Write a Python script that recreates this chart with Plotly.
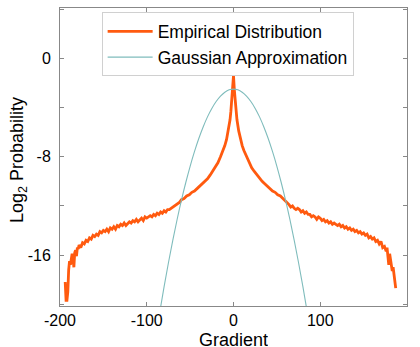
import plotly.graph_objects as go

# Empirical distribution (log2 probability vs gradient)
emp_x = [-194, -193, -192, -191, -190, -189, -188, -187, -186, -185, -184, -183, -182, -181, -180, -179, -178,
         -176, -174, -172, -170, -168, -166, -164, -162, -160, -158, -156, -154, -152, -150, -148, -146, -144,
         -142, -140, -138, -136, -134, -132, -130, -128, -126, -124, -122, -120, -118, -116, -114, -112, -110,
         -108, -106, -104, -102, -100, -98, -96, -94, -92, -90, -88, -86, -84, -82, -80, -78, -76, -74, -72,
         -70, -68, -66, -64, -62, -60, -57, -54, -51, -48, -45, -42, -39, -36, -33, -30, -27, -24, -21, -18,
         -15, -12, -10, -8, -6, -4, -3, -2, -1, 0,
         1, 2, 3, 4, 6, 8, 10, 12, 15, 18, 21, 24, 27, 30, 33, 36, 39, 42, 45, 48, 51, 54, 57,
         60, 62, 64, 66, 68, 70, 72, 74, 76, 78, 80, 82, 84, 86, 88, 90, 92, 94, 96, 98, 100, 102, 104, 106,
         108, 110, 112, 114, 116, 118, 120, 122, 124, 126, 128, 130, 132, 134, 136, 138, 140, 142, 144, 146,
         148, 150, 152, 154, 156, 158, 160, 162, 164, 166, 168, 170, 172, 174, 176, 177, 178, 179, 180, 181,
         182, 183, 184, 185, 186, 187]
emp_y = [-18.2, -19.7, -19.7, -19.0, -17.2, -16.5, -16.8, -16.0, -15.9, -16.3, -17.0, -15.8, -15.6, -16.1, -15.4,
         -15.5, -15.2, -15.4, -15.0, -15.1, -14.8, -14.9, -14.6, -14.7, -14.4, -14.5, -14.3, -14.4, -14.1, -14.2,
         -14.0, -14.1, -13.9, -14.1, -13.8, -13.9, -13.7, -13.9, -13.6, -13.7, -13.5, -13.6, -13.4, -13.6, -13.4,
         -13.3, -13.4, -13.2, -13.3, -13.1, -13.3, -13.1, -13.0, -13.2, -12.9, -13.0, -12.9, -12.8, -12.9, -12.7,
         -12.8, -12.6, -12.7, -12.5, -12.6, -12.4, -12.5, -12.3, -12.3, -12.2, -12.1, -12.0, -11.9, -11.8, -11.7,
         -11.5, -11.4, -11.2, -11.1, -10.9, -10.8, -10.6, -10.4, -10.2, -10.0, -9.8, -9.5, -9.2, -8.9, -8.5,
         -8.0, -7.5, -7.1, -6.6, -5.9, -5.0, -4.3, -3.5, -2.6, -1.4,
         -2.6, -3.5, -4.3, -5.0, -5.9, -6.6, -7.1, -7.5, -8.0, -8.5, -8.9, -9.2, -9.5, -9.8, -10.0, -10.2, -10.4,
         -10.6, -10.8, -10.9, -11.1, -11.2, -11.4,
         -11.6, -11.7, -11.9, -12.1, -12.0, -12.2, -12.3, -12.2, -12.3, -12.5, -12.4, -12.6, -12.5, -12.7, -12.7,
         -12.9, -12.8, -12.9, -13.1, -12.9, -13.0, -13.2, -13.1, -13.3, -13.2, -13.4, -13.3, -13.5, -13.4, -13.5,
         -13.6, -13.5, -13.7, -13.6, -13.8, -13.7, -13.9, -13.8, -14.0, -13.9, -14.1, -14.0, -14.2, -14.1, -14.3,
         -14.2, -14.4, -14.3, -14.6, -14.5, -14.7, -14.6, -14.9, -14.8, -15.1, -14.9, -15.4, -15.3, -15.7, -15.4,
         -16.0, -16.8, -15.9, -16.4, -16.9, -17.3, -17.0, -17.6, -18.2, -18.7]

# Gaussian approximation
gauss_x = [-90, -85, -80, -75, -70, -65, -60, -55, -50, -45, -40, -35, -30, -25, -20, -15, -10, -5, 0,
           5, 10, 15, 20, 25, 30, 35, 40, 45, 50, 55, 60, 65, 70, 75, 80, 85, 90]
gauss_y = [-22.85, -20.65, -18.58, -16.63, -14.81, -13.11, -11.54, -10.10, -8.78, -7.59, -6.52, -5.58,
           -4.76, -4.07, -3.51, -3.07, -2.75, -2.56, -2.50,
           -2.56, -2.75, -3.07, -3.51, -4.07, -4.76, -5.58, -6.52, -7.59, -8.78, -10.10, -11.54, -13.11,
           -14.81, -16.63, -18.58, -20.65, -22.85]

x_ticks = [-200, -100, 0, 100, 200]
x_labels = ["-200", "-100", "0", "100", "200"]
y_ticks = [0, -8, -16]
y_labels = ["0", "-8", "-16"]
x_title = "Gradient"
y_title = "Log<sub>2</sub> Probability"

fig = go.Figure()
fig.add_trace(go.Scatter(x=emp_x, y=emp_y, mode="lines", name="Empirical Distribution",
                         line=dict(color="#ff5a0f", width=2.8)))
fig.add_trace(go.Scatter(x=gauss_x, y=gauss_y, mode="lines", name="Gaussian Approximation",
                         line=dict(color="#7fbcbc", width=1.1, shape="spline")))

font = "Liberation Sans, Arial, sans-serif"
fig.update_layout(
    width=420, height=347,
    margin=dict(l=60, r=13, t=8, b=41),
    paper_bgcolor="white", plot_bgcolor="white",
    font=dict(family=font, size=16, color="black"),
    showlegend=True,
    legend=dict(x=0.12, y=0.985, xanchor="left", yanchor="top",
                bgcolor="white", bordercolor="#d0d0d0", borderwidth=1,
                font=dict(size=17.5), itemwidth=45, tracegroupgap=0),
    xaxis=dict(range=[-200, 200], tickvals=x_ticks, ticktext=x_labels, ticks="inside", ticklen=4,
               showline=True, linecolor="#888888", linewidth=1, mirror="allticks", automargin=False,
               showgrid=False, zeroline=False, tickcolor="#888888", ticklabelstandoff=0),
    yaxis=dict(range=[-20.15, 4.1], tickvals=y_ticks, ticktext=y_labels, ticks="inside", ticklen=4,
               showline=True, linecolor="#888888", linewidth=1, mirror="allticks", automargin=False,
               showgrid=False, zeroline=False, tickcolor="#888888", ticklabelstandoff=5,
               minor=dict(dtick=4, ticks="inside", ticklen=4, tickcolor="#888888")),
    annotations=[
        dict(text=x_title, xref="paper", yref="paper", x=0.5, y=-0.111, xanchor="center",
             yanchor="middle", showarrow=False, font=dict(size=18), height=15, borderpad=0),
        dict(text=y_title, xref="paper", yref="paper", x=-0.118, y=0.49, xanchor="center",
             yanchor="middle", showarrow=False, textangle=-90, font=dict(size=18)),
    ],
)

fig.write_html("out.html")
